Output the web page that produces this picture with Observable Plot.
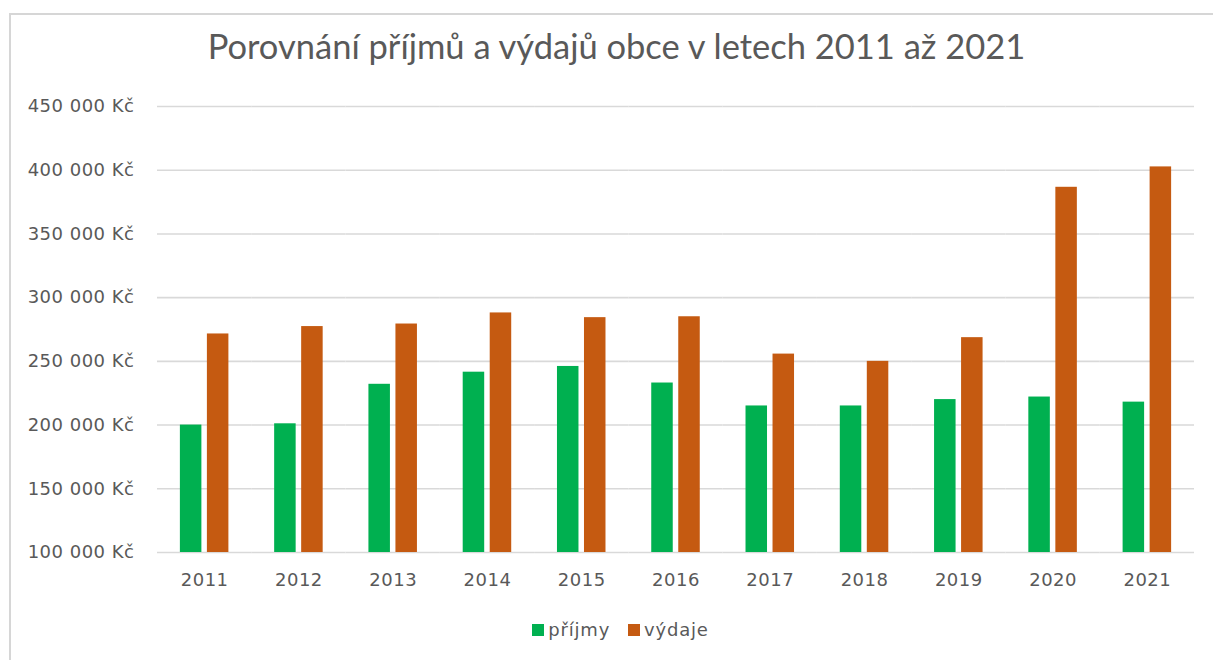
<!DOCTYPE html>
<html>
<head>
<meta charset="utf-8">
<script src="https://cdn.jsdelivr.net/npm/d3@7"></script>
<script src="https://cdn.jsdelivr.net/npm/@observablehq/plot@0.6"></script>
<style>
  html, body { margin: 0; padding: 0; background: #fff; width: 1213px; height: 660px; overflow: hidden; }
  #frame { position: absolute; left: 9px; top: 13px; width: 1210px; height: 660px;
           border-left: 2px solid #d6d6d6; border-top: 2px solid #d6d6d6; }
  #title { position: absolute; left: 0; width: 1233px; top: 25px; text-align: center;
           font-family: Lato, "Open Sans", sans-serif; font-size: 34.5px; color: #595959; white-space: nowrap; }
  #chart { position: absolute; left: 0; top: 90px; }
  #legend { position: absolute; left: 0; width: 1241px; top: 619px; display: flex; justify-content: center;
            font-family: "DejaVu Sans", sans-serif; font-size: 18px; color: #595959; letter-spacing: 0.8px; }
  .item { display: flex; align-items: center; margin: 0 9px; }
  .sw { width: 12px; height: 12px; margin-right: 4px; }
</style>
</head>
<body>
<div id="frame"></div>
<div id="title">Porovnání příjmů a výdajů obce v letech 2011 až 2021</div>
<div id="chart"></div>
<div id="legend"></div>
<script>
const years = ["2011","2012","2013","2014","2015","2016","2017","2018","2019","2020","2021"];
const series = ["příjmy", "výdaje"];
const colors = ["#00B050", "#C55A11"];
const prijmy = [200000, 201000, 232000, 241500, 246000, 233000, 215000, 215000, 220000, 222000, 218000];
const vydaje = [271500, 277300, 279300, 288000, 284300, 285000, 255700, 250000, 268600, 386600, 402600];
const yTicks = [100000, 150000, 200000, 250000, 300000, 350000, 400000, 450000];

const rows = [];
years.forEach((y, i) => {
  rows.push({year: y, series: series[0], value: prijmy[i]});
  rows.push({year: y, series: series[1], value: vydaje[i]});
});

const fmt = d => d3.format(",")(d).replace(/,/g, " ") + " Kč";

const chart = Plot.plot({
  width: 1213,
  height: 512,
  marginLeft: 157,
  marginRight: 19,
  marginTop: 16,
  marginBottom: 50,
  style: {fontFamily: "DejaVu Sans, sans-serif", fontSize: "18px", color: "#595959", letterSpacing: "0.5px", background: "transparent"},
  facet: {data: rows, x: "year"},
  fx: {domain: years, padding: 0, round: false, label: null, tickSize: 0, tickPadding: 21, axis: "bottom"},
  x: {domain: series, paddingInner: 0.204, paddingOuter: 0.847, round: false, axis: null},
  y: {domain: [100000, 450000], ticks: yTicks, tickFormat: fmt, tickSize: 0, tickPadding: 23, label: null},
  color: {domain: series, range: colors},
  marks: [
    Plot.ruleY(yTicks, {stroke: "#d9d9d9", strokeWidth: 1.6}),
    Plot.barY(rows, {x: "series", y1: 100000, y2: "value", fill: "series"})
  ]
});
document.getElementById("chart").appendChild(chart);

const legend = document.getElementById("legend");
series.forEach((s, i) => {
  const item = document.createElement("div");
  item.className = "item";
  const sw = document.createElement("div");
  sw.className = "sw";
  sw.style.background = colors[i];
  const t = document.createElement("span");
  t.textContent = s;
  item.appendChild(sw);
  item.appendChild(t);
  legend.appendChild(item);
});
</script>
</body>
</html>
